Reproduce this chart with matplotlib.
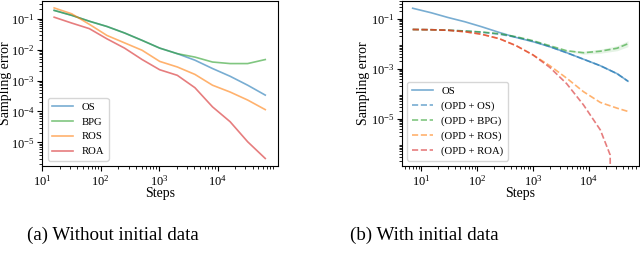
import numpy as np
import matplotlib
matplotlib.use("Agg")
import matplotlib.pyplot as plt

plt.rcParams['font.family'] = ['Liberation Serif', 'DejaVu Serif']
plt.rcParams['mathtext.fontset'] = 'stix'

# (a) sin datos iniciales: pasos = potencias de 2
pasos_a = 2.0 ** np.arange(4, 17)
log_os = [-0.73, -0.89, -1.08, -1.25, -1.46, -1.70, -1.95, -2.13, -2.34, -2.61, -2.86, -3.15, -3.47]
log_bpg = [-0.73, -0.89, -1.08, -1.25, -1.46, -1.70, -1.95, -2.13, -2.24, -2.40, -2.45, -2.45, -2.32]
log_ros = [-0.65, -0.84, -1.18, -1.54, -1.78, -2.02, -2.38, -2.56, -2.80, -3.15, -3.37, -3.63, -3.94]
log_roa = [-0.95, -1.14, -1.32, -1.65, -1.95, -2.32, -2.65, -2.83, -3.23, -3.85, -4.33, -4.98, -5.52]

# (b) con datos iniciales
pasos_b = [7, 15, 30, 60, 120, 250, 500, 1000, 2000, 4000, 8000, 16000, 32000, 50000]
log_os_b = [-0.58, -0.76, -0.95, -1.12, -1.32, -1.55, -1.75, -1.92, -2.12, -2.36, -2.62, -2.88, -3.20, -3.50]
log_opd_os = [-1.43, -1.44, -1.46, -1.49, -1.54, -1.62, -1.74, -1.90, -2.12, -2.36, -2.62, -2.88, -3.20, -3.50]
log_opd_bpg = [-1.43, -1.44, -1.46, -1.49, -1.53, -1.60, -1.72, -1.88, -2.08, -2.28, -2.36, -2.30, -2.18, -2.00]
banda_bpg = [0, 0, 0, 0, 0, 0, 0, 0, 0.01, 0.03, 0.06, 0.08, 0.10, 0.12]
log_opd_ros = [-1.43, -1.44, -1.46, -1.52, -1.62, -1.80, -2.08, -2.45, -2.88, -3.38, -3.92, -4.35, -4.58, -4.71]
pasos_roa_b = [7, 15, 30, 60, 120, 250, 500, 1000, 2000, 4000, 8000, 16000, 24000, 24500]
log_opd_roa = [-1.43, -1.44, -1.46, -1.52, -1.62, -1.80, -2.08, -2.45, -2.95, -3.60, -4.45, -5.45, -6.45, -9.0]

azul, verde, naranja, rojo = '#1f77b4', '#2ca02c', '#ff7f0e', '#d62728'
a = 0.6
lw = 1.2

fig = plt.figure(figsize=(6.4, 2.56), dpi=100)
ax1 = fig.add_axes([0.066, 0.352, 0.369, 0.646])
ax2 = fig.add_axes([0.628, 0.352, 0.370, 0.646])

ax1.plot(pasos_a, 10 ** np.array(log_os), color=azul, alpha=a, lw=lw, label='OS')
ax1.plot(pasos_a, 10 ** np.array(log_bpg), color=verde, alpha=a, lw=lw, label='BPG')
ax1.plot(pasos_a, 10 ** np.array(log_ros), color=naranja, alpha=a, lw=lw, label='ROS')
ax1.plot(pasos_a, 10 ** np.array(log_roa), color=rojo, alpha=a, lw=lw, label='ROA')

x_b = np.array(pasos_b, dtype=float)
ax2.plot(x_b, 10 ** np.array(log_os_b), color=azul, alpha=a, lw=lw, label='OS')
ax2.plot(x_b, 10 ** np.array(log_opd_os), '--', color=azul, alpha=a, lw=lw, label='(OPD + OS)')
b = np.array(log_opd_bpg)
ax2.fill_between(x_b, 10 ** (b - np.array(banda_bpg)), 10 ** (b + np.array(banda_bpg)),
                 color=verde, alpha=0.12, lw=0)
ax2.plot(x_b, 10 ** b, '--', color=verde, alpha=a, lw=lw, label='(OPD + BPG)')
ax2.plot(x_b, 10 ** np.array(log_opd_ros), '--', color=naranja, alpha=a, lw=lw, label='(OPD + ROS)')
ax2.plot(pasos_roa_b, 10 ** np.array(log_opd_roa), '--', color=rojo, alpha=a, lw=lw, label='(OPD + ROA)')

for ax in (ax1, ax2):
    ax.set_xscale('log')
    ax.set_yscale('log')
    ax.set_xlabel('Steps', fontsize=10)
    ax.set_ylabel('Sampling error', fontsize=10)
    ax.tick_params(labelsize=9, pad=2)
    ax.legend(loc='lower left', fontsize=7.7)
    ax.xaxis.set_label_coords(0.5, -0.13)

ax1.yaxis.set_label_coords(-0.128, 0.5)
ax2.yaxis.set_label_coords(-0.134, 0.5)

ax1.set_xlim(10, 1.1e5)
ax1.set_ylim(10 ** -5.76, 10 ** -0.41)
ax1.set_xticks([1e1, 1e2, 1e3, 1e4])
ax2.set_ylim(10 ** -6.89, 10 ** -0.27)
ax2.set_yticks([1e-1, 1e-3, 1e-5])

fig.text(0.177, 0.062, '(a) Without initial data', ha='center', fontsize=13.7)
fig.text(0.663, 0.062, '(b) With initial data', ha='center', fontsize=13.7)

fig.savefig('out.png', dpi=100)
